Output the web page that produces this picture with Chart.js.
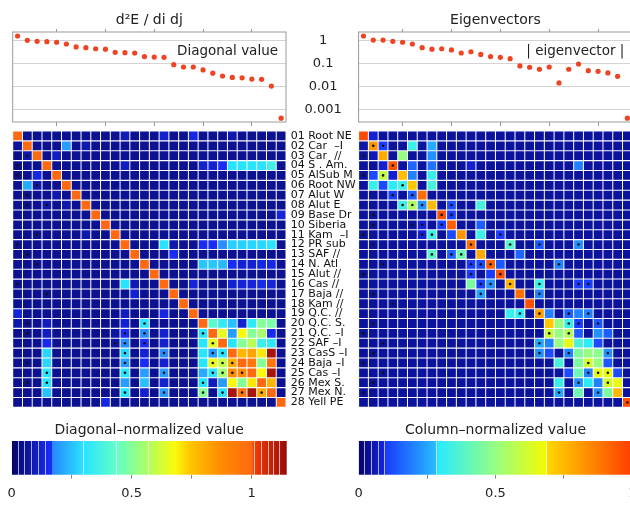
<!DOCTYPE html>
<html>
<head>
<meta charset="utf-8">
<title>Hessian and eigenvectors</title>
<script src="https://cdn.jsdelivr.net/npm/chart.js@4.4.1/dist/chart.umd.min.js"></script>
<style>
  html, body { margin: 0; padding: 0; background: #fff; overflow: hidden; }
  #fig { position: relative; width: 650px; height: 510px; }
  #fig canvas { position: absolute; }
</style>
</head>
<body>
<div id="fig">
  <canvas id="topLeft" width="345" height="130" style="left:0;top:0"></canvas>
  <canvas id="topRight" width="300" height="130" style="left:345px;top:0"></canvas>
  <canvas id="mapLeft" width="360" height="290" style="left:0;top:124px"></canvas>
  <canvas id="mapRight" width="300" height="290" style="left:345px;top:124px"></canvas>
  <canvas id="barLeft" width="300" height="94" style="left:0;top:415px"></canvas>
  <canvas id="barRight" width="300" height="94" style="left:345px;top:415px"></canvas>
</div>
<script>
Chart.defaults.font.family = '"DejaVu Sans", sans-serif';
Chart.defaults.color = '#222';

// values
const diagValue = [1.65, 1.07, 0.97, 0.93, 0.88, 0.74, 0.55, 0.51, 0.46, 0.44, 0.32, 0.31, 0.30, 0.21,
  0.20, 0.195, 0.093, 0.074, 0.074, 0.055, 0.040, 0.030, 0.026, 0.025, 0.022, 0.0215, 0.011, 0.00044];
const eigenValue = [1.65, 1.1, 1.1, 0.97, 0.88, 0.74, 0.51, 0.44, 0.46, 0.41, 0.30, 0.34, 0.26, 0.21,
  0.195, 0.17, 0.082, 0.072, 0.059, 0.074, 0.015, 0.059, 0.10, 0.051, 0.048, 0.041, 0.029, 0.00044];
const logTicks = [0.001, 0.01, 0.1, 1];
const markTicks = [5, 10, 15, 20, 25];

const rowNames = ['01 Root NE', '02 Car  \u2013I', '03 Car  //', '04 S . Am.', '05 AlSub M', '06 Root NW',
  '07 Alut W', '08 Alut E', '09 Base Dr', '10 Siberia', '11 Kam  \u2013I', '12 PR sub', '13 SAF //',
  '14 N. Atl', '15 Alut //', '16 Cas //', '17 Baja //', '18 Kam //', '19 Q.C. //', '20 Q.C. S.',
  '21 Q.C. \u2013I', '22 SAF \u2013I', '23 CasS \u2013I', '24 Baja \u2013I', '25 Cas \u2013I', '26 Mex S.',
  '27 Mex N.', '28 Yell PE'];

// diagonal-normalized second derivatives, row by row
const hessRows = [
  [1,.05,.05,.05,.05,.05,.05, .05,.05,.05,.05,.09,.05,.05, .05,.12,.05,.05,.14,.05,.05, .05,.08,.05,.05,.05,.05,.05],
  [.06,1,.05,.05,.05,.2,.05, .08,.05,.05,.05,.05,.05,.05, .05,.05,.05,.05,.05,.05,.05, .05,.05,.05,.05,.05,.05,.05],
  [.04,.08,1,.05,.1,.05,.05, .05,.05,.05,.05,.05,.05,.05, .05,.05,.05,.05,.05,.05,.05, .05,.05,.05,.05,.05,.05,.05],
  [.04,.05,.05,1,.05,.05,.05, .05,.05,.05,.05,.1,.05,.05, .05,.05,.05,.05,.05,.12,.12, .16,.3,.3,.3,.3,.36,.05],
  [.04,.05,.14,.05,1,.05,.05, .05,.05,.05,.05,.05,.05,.05, .05,.05,.05,.05,.05,.05,.05, .05,.05,.05,.05,.05,.05,.05],
  [.05,.22,.08,.05,.05,1,.05, .05,.05,.05,.05,.05,.05,.05, .05,.05,.05,.05,.05,.05,.05, .05,.05,.05,.05,.05,.05,.05],
  [.05,.05,.05,.05,.08,.05,1, .05,.05,.05,.05,.05,.05,.05, .05,.05,.05,.05,.05,.05,.05, .05,.05,.05,.05,.05,.05,.05],
  [.05,.05,.05,.08,.05,.08,.05, 1,.05,.05,.05,.05,.05,.05, .05,.05,.05,.05,.05,.05,.05, .05,.05,.05,.05,.05,.05,.05],
  [.05,.05,.05,.05,.05,.05,.05, .05,1,.05,.05,.05,.05,.05, .05,.05,.05,.05,.05,.05,.05, .05,.05,.05,.05,.05,.05,.13],
  [.05,.05,.05,.05,.05,.05,.05, .05,.05,1,.05,.05,.05,.05, .05,.05,.05,.05,.05,.05,.05, .05,.05,.05,.05,.05,.05,.05],
  [.05,.05,.05,.05,.05,.05,.05, .08,.05,.05,1,.05,.05,.05, .05,.05,.05,.05,.05,.05,.05, .05,.05,.05,.05,.05,.05,.05],
  [.05,.05,.05,.05,.05,.05,.05, .05,.05,.05,.05,1,.05,.05, .05,.3,.08,.05,.05,.16,.16, .18,.27,.27,.28,.28,.3,.05],
  [.05,.05,.05,.05,.05,.05,.05, .05,.05,.05,.05,.05,1,.05, .05,.05,.16,.05,.05,.05,.05, .05,.05,.05,.05,.05,.05,.05],
  [.05,.05,.05,.05,.05,.05,.05, .05,.05,.05,.05,.05,.05,1, .05,.05,.05,.05,.05,.26,.26, .24,.16,.12,.12,.14,.14,.05],
  [.05,.05,.05,.05,.05,.05,.05, .05,.05,.05,.05,.05,.05,.05, 1,.05,.05,.05,.05,.05,.05, .05,.05,.05,.05,.05,.05,.05],
  [.05,.05,.05,.05,.05,.05,.05, .05,.05,.05,.05,.3,.09,.05, .05,1,.05,.05,.13,.05,.05, .05,.12,.13,.13,.15,.13,.05],
  [.05,.05,.05,.05,.05,.05,.05, .05,.05,.05,.05,.05,.12,.05, .05,.05,1,.05,.05,.05,.05, .05,.05,.05,.05,.05,.05,.05],
  [.05,.05,.05,.05,.05,.05,.05, .05,.05,.05,.05,.05,.05,.05, .05,.05,.05,1,.05,.05,.05, .05,.05,.05,.05,.05,.05,.05],
  [.13,.05,.05,.05,.05,.05,.05, .05,.05,.05,.05,.1,.05,.05, .05,.14,.05,.05,1,.05,.05, .05,.05,.05,.05,.05,.05,.05],
  [.08,.05,.05,.1,.05,.05,.05, .05,.05,.05,.05,.12,.05,.3, .05,.05,.05,.05,.05,1,.42, .33,.25,.12,.32,.5,.48,.05],
  [.05,.05,.05,.1,.05,.05,.05, .05,.05,.05,.07,.16,.05,.18, .05,.12,.05,.05,.05,.3,1, .65,.2,.68,.5,.55,.15,.05],
  [.05,.05,.05,.15,.05,.05,.05, .05,.05,.05,.07,.18,.05,.16, .05,.12,.05,.05,.05,.3,.65, 1,.3,.5,.58,.35,.32,.05],
  [.05,.05,.05,.28,.05,.05,.05, .05,.05,.05,.05,.28,.05,.12, .05,.18,.05,.05,.05,.3,.2, .3,1,.78,.82,.7,1.12,.05],
  [.05,.05,.05,.28,.05,.05,.05, .05,.05,.05,.05,.2,.05,.16, .05,.12,.05,.05,.05,.3,.66, .6,.8,1,.95,.5,.95,.05],
  [.05,.05,.05,.3,.05,.05,.05, .05,.05,.05,.05,.3,.05,.2, .05,.2,.05,.05,.05,.22,.3, .55,.88,.88,1,.68,1.12,.05],
  [.05,.05,.05,.3,.05,.05,.05, .05,.05,.05,.05,.2,.05,.25, .05,.12,.05,.05,.05,.3,.1, .2,.68,.5,.7,1,.78,.05],
  [.05,.05,.05,.25,.05,.05,.05, .05,.05,.05,.05,.3,.05,.12, .05,.2,.05,.05,.05,.5,.05, .3,1.12,.95,1.12,.8,1,.05],
  [.05,.05,.05,.05,.05,.05,.05, .05,.05,.14,.05,.05,.05,.05, .05,.05,.05,.05,.05,.05,.05, .05,.05,.05,.05,.05,.05,1]
];

// column-normalized eigenvectors, row by row
const eigRows = [
  [.97,.08,.04,.04,.04,.04,.04, .04,.04,.04,.04,.04,.04,.04, .04,.04,.04,.04,.04,.04,.04, .04,.04,.04,.04,.04,.04,.04],
  [.05,.82,.1,.04,.04,.33,.04, .26,.04,.04,.04,.04,.04,.04, .04,.04,.04,.04,.04,.04,.04, .04,.04,.04,.04,.04,.04,.04],
  [.04,.06,.78,.04,.5,.04,.04, .22,.04,.04,.04,.04,.04,.04, .04,.04,.04,.04,.04,.04,.04, .04,.04,.04,.04,.04,.04,.04],
  [.04,.04,.08,.95,.04,.16,.04, .18,.04,.04,.04,.08,.04,.04, .04,.04,.04,.04,.04,.04,.04, .04,.2,.04,.04,.04,.04,.04],
  [.04,.12,.58,.08,.74,.2,.04, .32,.04,.04,.04,.04,.04,.04, .04,.04,.04,.04,.04,.04,.04, .04,.04,.04,.04,.04,.04,.04],
  [.04,.32,.12,.3,.33,.72,.04, .35,.04,.04,.04,.04,.04,.04, .04,.04,.04,.04,.04,.04,.04, .04,.04,.04,.04,.04,.04,.04],
  [.04,.04,.04,.1,.04,.15,.9, .04,.04,.04,.04,.04,.04,.04, .04,.04,.04,.04,.04,.04,.04, .04,.04,.04,.04,.04,.04,.04],
  [.04,.04,.04,.04,.33,.55,.22, .75,.04,.12,.04,.04,.35,.04, .04,.04,.04,.04,.04,.04,.04, .04,.04,.04,.04,.04,.04,.04],
  [.04,.04,.04,.04,.04,.04,.04, .04,.96,.1,.04,.04,.04,.04, .04,.04,.04,.04,.04,.04,.04, .04,.04,.04,.04,.04,.04,.04],
  [.04,.04,.04,.04,.04,.04,.08, .04,.1,.93,.04,.04,.15,.04, .04,.04,.04,.04,.04,.04,.04, .04,.04,.04,.04,.04,.04,.04],
  [.04,.04,.04,.04,.04,.04,.08, .33,.04,.12,.82,.04,.33,.04, .1,.04,.04,.04,.04,.04,.04, .04,.04,.04,.04,.04,.04,.04],
  [.04,.04,.04,.04,.04,.04,.04, .04,.04,.04,.04,.9,.04,.04, .04,.38,.04,.04,.14,.04,.04, .04,.22,.04,.04,.04,.04,.04],
  [.04,.04,.04,.04,.04,.04,.04, .38,.04,.15,.42,.04,.78,.04, .04,.04,.16,.04,.04,.04,.04, .04,.04,.04,.04,.04,.04,.04],
  [.04,.04,.04,.04,.04,.04,.04, .04,.04,.04,.04,.1,.12,.93, .14,.04,.04,.04,.04,.04,.2, .04,.04,.04,.04,.04,.04,.04],
  [.04,.04,.04,.04,.04,.04,.04, .04,.04,.04,.04,.1,.04,.1, .96,.04,.04,.04,.04,.04,.04, .04,.04,.04,.04,.04,.04,.04],
  [.04,.04,.04,.04,.04,.04,.04, .04,.04,.04,.04,.45,.1,.22, .04,.76,.04,.04,.33,.04,.04, .04,.1,.1,.04,.04,.04,.04],
  [.04,.04,.04,.04,.04,.04,.04, .04,.04,.04,.04,.04,.24,.04, .04,.04,.9,.04,.2,.04,.04, .04,.04,.04,.04,.04,.04,.04],
  [.04,.04,.04,.04,.04,.04,.04, .04,.04,.04,.04,.04,.04,.04, .04,.04,.04,.96,.04,.04,.04, .04,.04,.04,.04,.04,.04,.04],
  [.04,.04,.04,.04,.04,.04,.04, .04,.04,.04,.04,.04,.04,.04, .04,.32,.3,.04,.8,.2,.04, .15,.2,.2,.04,.04,.04,.04],
  [.04,.04,.04,.04,.04,.04,.04, .04,.04,.04,.04,.04,.04,.04, .04,.04,.04,.04,.04,.72,.5, .32,.1,.04,.14,.04,.04,.04],
  [.04,.04,.04,.04,.04,.04,.04, .04,.04,.04,.04,.04,.04,.04, .04,.04,.04,.04,.04,.6,.5, .55,.15,.04,.22,.15,.04,.04],
  [.04,.04,.04,.04,.04,.04,.04, .04,.04,.04,.04,.04,.04,.04, .04,.04,.04,.04,.25,.2,.5, .66,.35,.3,.12,.04,.04,.04],
  [.04,.04,.04,.04,.04,.04,.04, .04,.04,.04,.04,.04,.04,.04, .04,.04,.04,.04,.22,.12,.04, .2,.45,.5,.48,.22,.04,.04],
  [.04,.04,.04,.04,.04,.04,.04, .04,.04,.04,.04,.04,.04,.04, .04,.04,.04,.04,.04,.04,.35, .04,.45,.62,.5,.14,.04,.04],
  [.04,.04,.04,.04,.04,.04,.04, .04,.04,.04,.04,.04,.04,.04, .04,.04,.04,.04,.04,.04,.04, .12,.42,.2,.66,.66,.12,.04],
  [.04,.04,.04,.04,.04,.04,.04, .04,.04,.04,.04,.04,.04,.04, .04,.04,.04,.04,.04,.04,.32, .04,.22,.3,.2,.62,.66,.04],
  [.04,.04,.04,.04,.04,.04,.04, .04,.04,.04,.04,.04,.04,.04, .04,.04,.04,.04,.04,.04,.25, .04,.42,.04,.22,.45,.75,.04],
  [.04,.04,.04,.04,.04,.04,.04, .04,.04,.04,.04,.04,.04,.04, .04,.04,.04,.04,.04,.04,.04, .04,.04,.04,.04,.04,.04,.96]
];

// [row, column] of the small black marks
const hessDots = [[20,14],[21,12],[21,14],[21,20],[22,12],[22,14],[22,21],[23,12],[23,21],[23,22],
  [24,12],[24,21],[24,22],[24,23],[25,4],[25,12],[25,21],[25,22],[25,23],[25,24],[26,4],[26,20],
  [27,12],[27,16],[27,20],[27,22],[27,24],[27,26],[3,2],[4,1],[5,1],[6,3],[7,2],[8,2],[8,4],[11,3],
  [12,1],[13,2],[14,3],[16,1],[17,4],[20,2],[21,2],[22,11],[23,16],[24,2],[25,16],[26,2]];
const eigDots = [[2,2],[2,3],[4,4],[5,3],[6,5],[7,4],[7,6],[8,5],[8,6],[8,7],[8,10],[9,9],[9,10],
  [10,6],[10,7],[10,9],[11,7],[11,8],[11,15],[12,12],[12,16],[12,19],[12,23],[13,8],[13,10],[13,11],
  [14,12],[14,13],[14,14],[14,21],[15,12],[15,15],[16,13],[16,14],[16,16],[16,19],[16,23],[16,24],
  [17,13],[17,19],[19,17],[19,19],[19,22],[19,24],[20,22],[20,23],[20,25],[21,20],[21,22],[22,19],
  [23,19],[23,22],[23,26],[24,24],[25,24],[25,25],[25,26],[26,23],[26,26],[27,21],[27,25],[28,28],
  [3,1],[5,1],[9,2],[10,2],[11,1],[12,2],[14,3],[15,1],[17,2],[18,4],[20,2],[21,1],[22,3],[23,2],
  [24,1],[25,3],[26,2],[27,1]];

// colour scales: [value, [r, g, b]]
const hessMax = 1.146;
const hessStops = [[0,[5,5,100]],[0.166,[25,45,250]],[0.17,[40,135,255]],[0.30,[40,228,255]],
  [0.44,[100,255,200]],[0.57,[175,255,95]],[0.68,[250,250,10]],[0.74,[255,200,0]],[0.87,[255,140,0]],
  [1.0,[255,105,18]],[1.01,[245,60,5]],[1.146,[150,10,10]]];
const eigMax = 1;
const eigStops = [[0,[5,5,100]],[0.094,[20,35,230]],[0.1,[25,60,255]],[0.285,[40,190,255]],
  [0.29,[40,235,255]],[0.5,[150,255,130]],[0.686,[245,250,0]],[0.69,[255,215,0]],[1.0,[255,60,0]]];
const hessStripes = [0.0275, 0.055, 0.083, 0.11, 0.139, 0.301, 0.437, 0.572, 1.01, 1.04, 1.07, 1.093, 1.118];
const eigStripes = [0.023, 0.048, 0.072, 0.094, 0.285, 0.686];
const hessMarks = [0.25, 0.5, 0.75, 1];
const eigMarks = [0.25, 0.5, 0.75];
const barLabels = [0, 0.5, 1];

const rgb = c => 'rgb(' + c.map(Math.round).join(',') + ')';
const clear = 'rgba(0,0,0,0)';

function colorAt(stops, v) {
  if (v <= stops[0][0]) return rgb(stops[0][1]);
  for (let i = 1; i < stops.length; i++) {
    if (v <= stops[i][0]) {
      const [v0, c0] = stops[i - 1];
      const [v1, c1] = stops[i];
      const t = (v - v0) / (v1 - v0);
      return rgb(c0.map((k, j) => k + (c1[j] - k) * t));
    }
  }
  return rgb(stops[stops.length - 1][1]);
}

// box round the plot area
const frame = {
  id: 'frame',
  beforeDatasetsDraw(chart) {
    const { ctx, chartArea: a } = chart;
    ctx.save();
    ctx.strokeStyle = '#9a9a9a';
    ctx.lineWidth = 1;
    ctx.strokeRect(a.left, a.top, a.width, a.height);
    ctx.restore();
  }
};

// label written inside the panel
const panelNote = {
  id: 'panelNote',
  afterDatasetsDraw(chart, args, opts) {
    if (!opts.text) return;
    const { ctx, chartArea: a } = chart;
    ctx.save();
    ctx.font = '13.5px "DejaVu Sans"';
    ctx.fillStyle = '#222';
    ctx.textAlign = 'right';
    ctx.textBaseline = 'middle';
    ctx.fillText(opts.text, a.right - 8, a.top + 19.5);
    ctx.restore();
  }
};

function tickAxis(position, len) {
  return {
    type: 'linear', position, min: 0.5, max: 28.5,
    afterBuildTicks: s => { s.ticks = markTicks.map(v => ({ value: v })); },
    afterFit: s => { s.height = len; },
    grid: { drawOnChartArea: false, drawTicks: true, tickLength: len, tickColor: '#999' },
    border: { display: false },
    ticks: { display: false }
  };
}

function makeTopPanel(id, values, title, note, showLabels, pad) {
  return new Chart(document.getElementById(id), {
    type: 'scatter',
    data: {
      datasets: [{
        data: values.map((v, i) => ({ x: i + 1, y: v })),
        pointRadius: 2.6,
        backgroundColor: '#ef4423',
        borderWidth: 0
      }]
    },
    options: {
      responsive: false, animation: false, events: [],
      layout: { padding: pad, autoPadding: false },
      plugins: {
        legend: { display: false },
        tooltip: { enabled: false },
        title: {
          display: true, text: title, fullSize: false, color: '#222',
          font: { size: 14, weight: 'normal' },
          padding: { top: 12.2, bottom: 0 }
        },
        panelNote: { text: note }
      },
      scales: {
        x: tickAxis('bottom', 4),
        x2: tickAxis('top', 3),
        y: {
          type: 'logarithmic', position: showLabels ? 'right' : 'left', min: 3e-4, max: 2.46,
          afterBuildTicks: s => { s.ticks = logTicks.map(v => ({ value: v })); },
          afterFit: s => { s.width = showLabels ? 59 : 0; },
          // the invisible tick marks push the labels out to the middle gap
          grid: { color: ctx => ctx.type === 'tick' ? '#d4d4d4' : clear, drawTicks: showLabels, tickLength: 18.5, tickColor: clear },
          border: { display: false },
          ticks: {
            display: showLabels, padding: 0, crossAlign: 'center',
            font: { size: 13 }, color: '#222', callback: v => String(v)
          }
        }
      }
    },
    plugins: [frame, panelNote]
  });
}

function cellData(rows) {
  const pts = [];
  rows.forEach((row, r) => row.forEach((v, c) => pts.push({ x: c + 1, y: r + 1, v })));
  return pts;
}

function makeMap(id, rows, dots, stops, withLabels, pad) {
  return new Chart(document.getElementById(id), {
    type: 'scatter',
    data: {
      datasets: [
        {
          data: dots.map(([r, c]) => ({ x: c, y: r })),
          pointRadius: 1.3, backgroundColor: '#111', borderWidth: 0
        },
        {
          data: cellData(rows),
          pointStyle: 'rect',
          pointRadius: ctx => {
            const a = ctx.chart.chartArea;
            return a ? (a.width / 28 - 1) / Math.SQRT2 : 0;
          },
          backgroundColor: ctx => ctx.raw ? colorAt(stops, ctx.raw.v) : '#000',
          borderWidth: 0
        }
      ]
    },
    options: {
      responsive: false, animation: false, events: [],
      layout: { padding: pad, autoPadding: false },
      plugins: { legend: { display: false }, tooltip: { enabled: false } },
      scales: {
        x: { type: 'linear', min: 0.5, max: 28.5, display: false },
        y: {
          type: 'linear', min: 0.5, max: 28.5, reverse: true, position: 'right', display: withLabels,
          afterBuildTicks: s => { s.ticks = rowNames.map((n, i) => ({ value: i + 1 })); },
          afterFit: s => { s.width = withLabels ? 74 : 0; },
          grid: { drawOnChartArea: false, drawTicks: true, tickLength: 4.7, tickColor: clear },
          border: { display: false },
          ticks: {
            autoSkip: false, padding: 0, font: { size: 11 }, color: '#111',
            callback: v => rowNames[v - 1]
          }
        }
      }
    }
  });
}

function makeBar(id, title, max, stops, stripes, marks, pad) {
  const ticks = [...new Set([...stripes, ...marks, ...barLabels])].sort((a, b) => a - b);
  return new Chart(document.getElementById(id), {
    type: 'bar',
    data: {
      labels: [''],
      datasets: [{
        data: [[0, max]],
        borderWidth: 0, barPercentage: 1, categoryPercentage: 1,
        backgroundColor: ctx => {
          const chart = ctx.chart;
          if (!chart.chartArea) return '#000';
          const xs = chart.scales.x;
          const g = chart.ctx.createLinearGradient(xs.getPixelForValue(0), 0, xs.getPixelForValue(max), 0);
          stops.forEach(([v, c]) => g.addColorStop(v / max, rgb(c)));
          return g;
        }
      }]
    },
    options: {
      indexAxis: 'y',
      responsive: false, animation: false, events: [],
      layout: { padding: pad, autoPadding: false },
      plugins: {
        legend: { display: false },
        tooltip: { enabled: false },
        title: {
          display: true, text: title, fullSize: false, color: '#222',
          font: { size: 14, weight: 'normal' },
          padding: { top: 6.6, bottom: 2.6 }
        }
      },
      scales: {
        y: { display: false },
        x: {
          type: 'linear', min: 0, max,
          afterBuildTicks: s => { s.ticks = ticks.map(v => ({ value: v })); },
          grid: {
            z: 1, lineWidth: 1, tickLength: 4,
            color: ctx => ctx.tick && stripes.includes(ctx.tick.value) ? 'rgba(255,255,255,0.65)' : clear,
            tickColor: ctx => ctx.tick && marks.includes(ctx.tick.value) ? '#8a8a8a' : clear
          },
          border: { display: false },
          ticks: {
            autoSkip: false, maxRotation: 0, padding: 7, font: { size: 13 }, color: '#222',
            callback: v => barLabels.includes(v) ? String(v) : ''
          }
        }
      }
    }
  });
}

makeTopPanel('topLeft', diagValue, 'd\u00b2E / di dj', 'Diagonal value', true,
  { left: 12.7, right: 0, top: 0, bottom: 4 });
makeTopPanel('topRight', eigenValue, 'Eigenvectors', '| eigenvector |', false,
  { left: 13.6, right: 12.7, top: 0, bottom: 4 });

makeMap('mapLeft', hessRows, hessDots, hessStops, true, { left: 12.7, right: 0, top: 7, bottom: 6.6 });
makeMap('mapRight', eigRows, eigDots, eigStops, false, { left: 13.6, right: 12.7, top: 7, bottom: 6.6 });

makeBar('barLeft', 'Diagonal\u2013normalized value', hessMax, hessStops, hessStripes, hessMarks,
  { left: 11.7, right: 13.3, top: 0, bottom: 0.7 });
makeBar('barRight', 'Column\u2013normalized value', eigMax, eigStops, eigStripes, eigMarks,
  { left: 13.6, right: 12.7, top: 0, bottom: 0.7 });
</script>
</body>
</html>
